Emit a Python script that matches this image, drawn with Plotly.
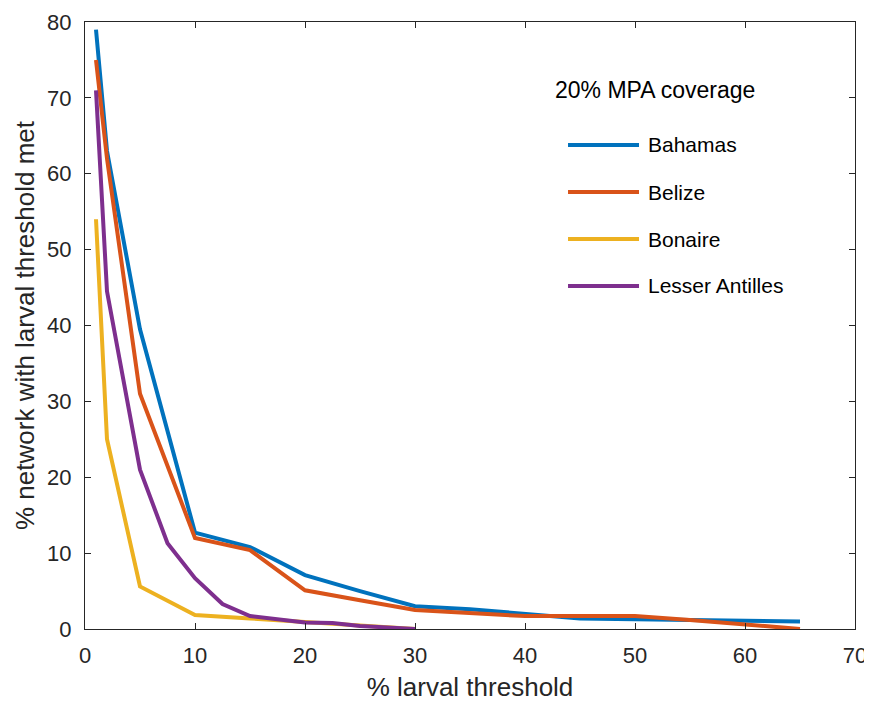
import plotly.graph_objects as go

# ---- data ----
series_names = ["Bahamas", "Belize", "Bonaire", "Lesser Antilles"]

bahamas_x = [1, 2, 5, 10, 15, 20, 25, 30, 35, 40, 45, 50, 55, 60, 65]
bahamas_y = [79, 63, 39.5, 12.7, 10.8, 7.1, 5.0, 3.0, 2.6, 2.0, 1.4, 1.3, 1.2, 1.1, 1.0]

belize_x = [1, 2, 5, 10, 15, 20, 25, 30, 40, 45, 50, 55, 60, 65]
belize_y = [75, 62, 31, 12.0, 10.4, 5.1, 3.8, 2.5, 1.7, 1.7, 1.7, 1.2, 0.6, 0.0]

bonaire_x = [1, 2, 5, 10, 15, 20, 25, 30]
bonaire_y = [54, 25, 5.6, 1.85, 1.4, 0.9, 0.5, 0.0]

antilles_x = [1, 2, 5, 7.5, 10, 12.5, 15, 20, 22.5, 25, 30]
antilles_y = [71, 44.5, 21, 11.3, 6.7, 3.3, 1.7, 0.85, 0.8, 0.4, 0.0]

colors = ["#0072BD", "#D95319", "#EDB120", "#7E2F8E"]
x_ticks = [0, 10, 20, 30, 40, 50, 60, 70]
y_ticks = [0, 10, 20, 30, 40, 50, 60, 70, 80]
legend_title = "20% MPA coverage"

FONT = "Liberation Sans, Arial, sans-serif"
INK = "#262626"

fig = go.Figure()
all_x = [bahamas_x, belize_x, bonaire_x, antilles_x]
all_y = [bahamas_y, belize_y, bonaire_y, antilles_y]
for name, xs, ys, c in zip(series_names, all_x, all_y, colors):
    fig.add_trace(go.Scatter(x=xs, y=ys, mode="lines", name=name,
                             line=dict(color=c, width=4), showlegend=False))

# manual MATLAB-style legend (paper coords)
leg_y = [0.7974, 0.7199, 0.6425, 0.5651]
for name, c, yy in zip(series_names, colors, leg_y):
    fig.add_shape(type="line", xref="paper", yref="paper",
                  x0=0.6273, x1=0.7195, y0=yy, y1=yy,
                  line=dict(color=c, width=4))
    fig.add_annotation(xref="paper", yref="paper", x=0.7286, y=yy,
                       xanchor="left", yanchor="middle", showarrow=False,
                       text=name, font=dict(family=FONT, size=21, color="black"))
fig.add_annotation(xref="paper", yref="paper", x=0.6078, y=0.888,
                   xanchor="left", yanchor="middle", showarrow=False,
                   text=legend_title, font=dict(family=FONT, size=23, color="black"))

axis_common = dict(showgrid=False, zeroline=False, showline=True, linecolor=INK,
                   linewidth=1, mirror="ticks", ticks="inside", ticklen=6,
                   tickcolor=INK, tickwidth=1, automargin=False,
                   tickfont=dict(family=FONT, size=22, color=INK))

# page body has an 8px margin, so the figure is sized/placed to compensate
fig.update_layout(
    width=864, height=694,
    margin=dict(l=77, r=17, t=14, b=73),
    paper_bgcolor="white", plot_bgcolor="white",
    xaxis=dict(range=[0, 70], tickvals=x_ticks, ticklabelstandoff=7,
               title=dict(text="% larval threshold", standoff=12,
                          font=dict(family=FONT, size=26, color=INK)),
               **axis_common),
    yaxis=dict(range=[0, 80], tickvals=y_ticks, ticklabelstandoff=8,
               title=dict(text="% network with larval threshold met", standoff=5,
                          font=dict(family=FONT, size=26, color=INK)),
               **axis_common),
)

fig.write_html("out.html")
